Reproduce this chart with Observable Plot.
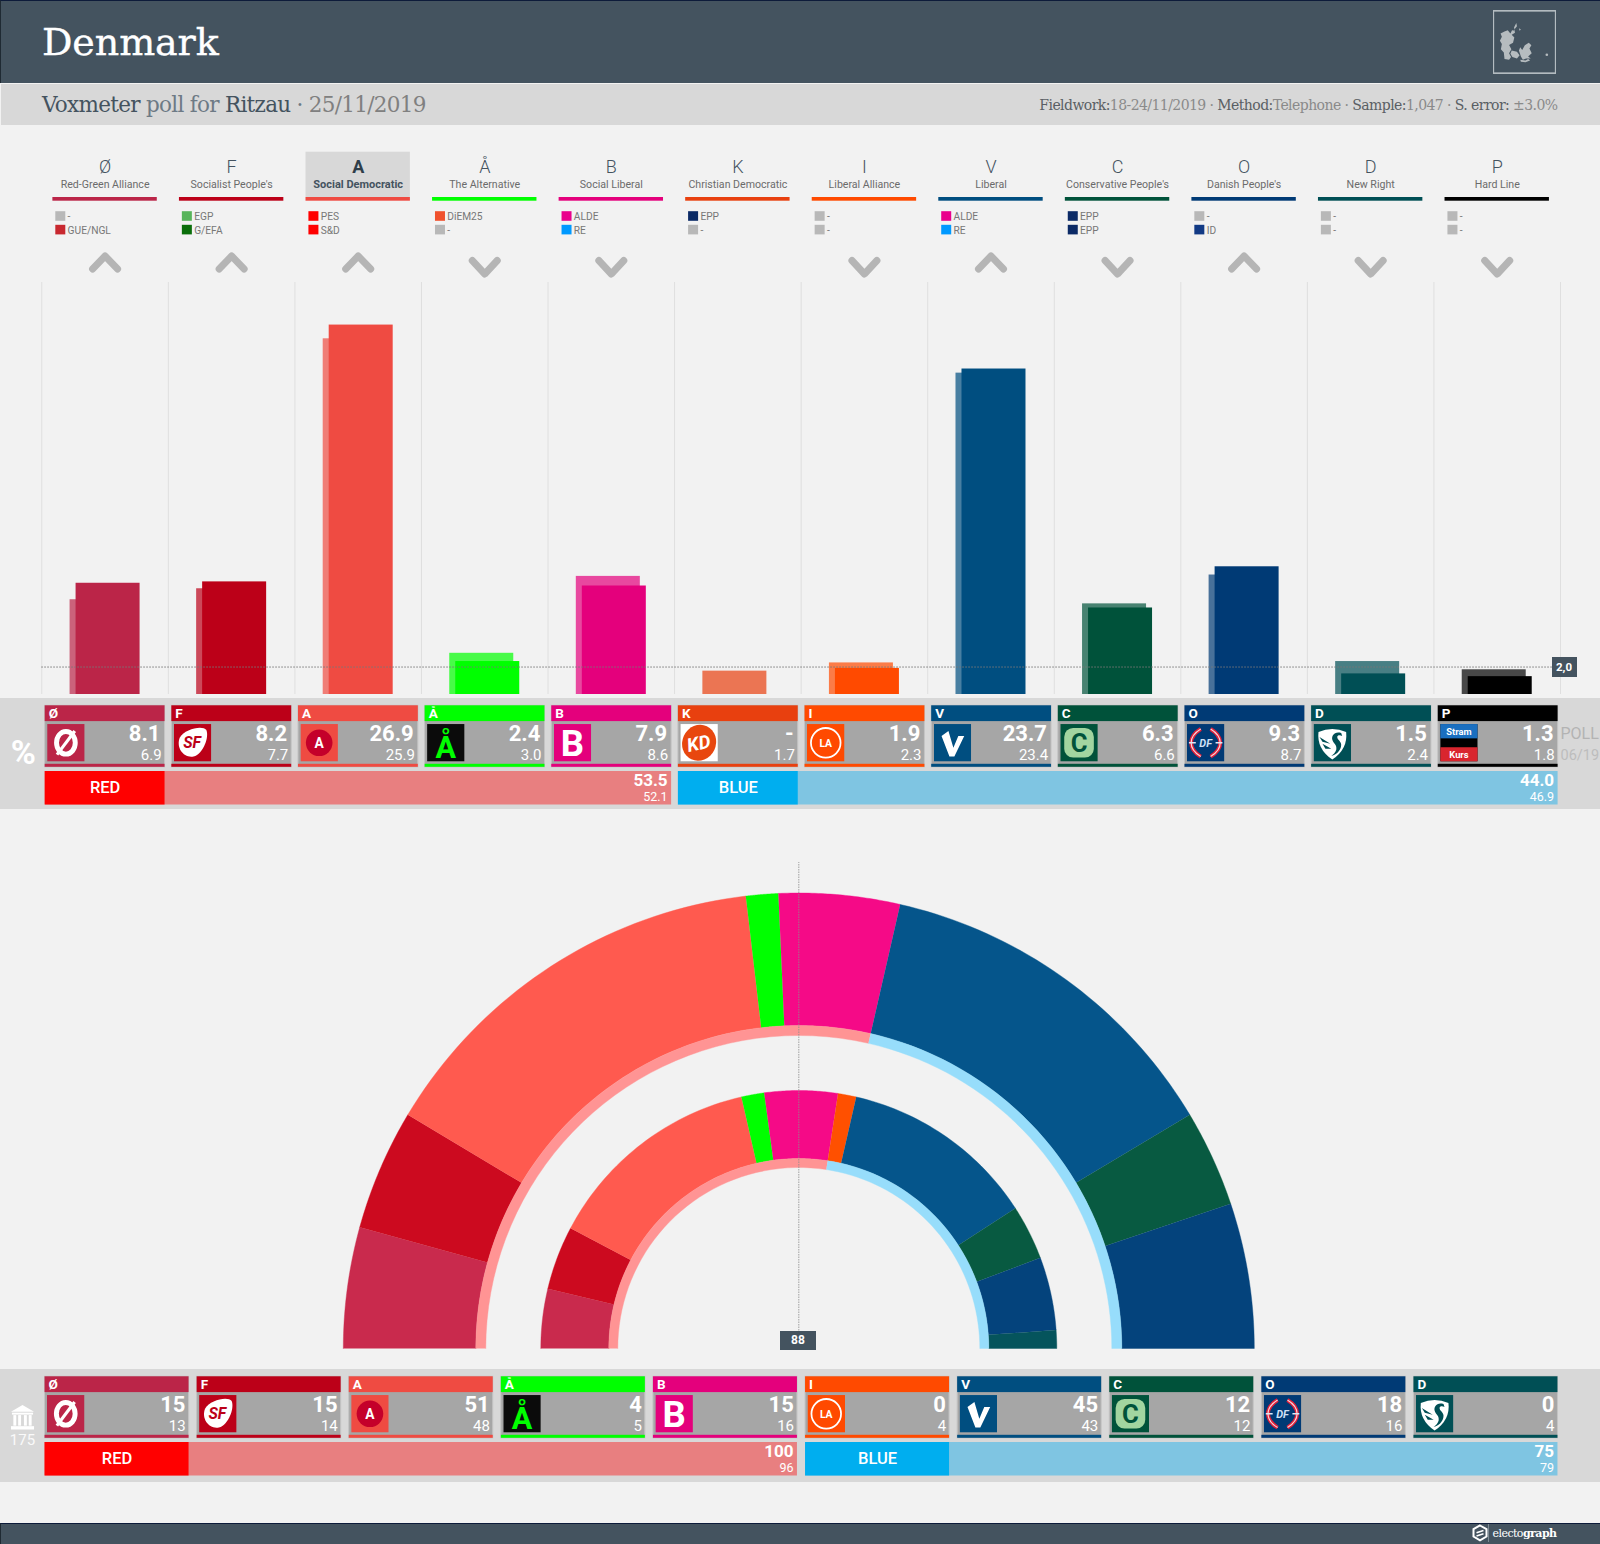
<!DOCTYPE html>
<html lang="en">
<head>
<meta charset="utf-8">
<title>Denmark — Voxmeter poll for Ritzau</title>
<script src="https://cdn.jsdelivr.net/npm/d3@7"></script>
<script src="https://cdn.jsdelivr.net/npm/@observablehq/plot@0.6"></script>
<style>
html,body{margin:0;padding:0;width:1600px;height:1544px;overflow:hidden;background:#f2f2f2;font-family:Roboto,sans-serif}
.abs{position:absolute}
.abs svg{display:block}
#head{left:0;top:0;width:1599px;height:82px;background:#44535f;border-top:1px solid #0d1b3a;border-left:1px solid #1f2a33}
#title{left:42px;top:19px;font:38px/46px "DejaVu Serif",serif;color:#fff;white-space:nowrap;margin:0;letter-spacing:-.1px;-webkit-text-stroke:.35px #fff}
#sub{left:1px;top:84px;width:1599px;height:41px;background:#d8d8d8}
#subl{left:42px;top:92px;font:21.5px/26px "DejaVu Serif",serif;color:#6d7a85;white-space:nowrap;letter-spacing:-.7px;font-weight:300}
#subl b,#subr b{font-weight:400;color:#44535f}
#subl i{font-style:normal;color:#808080}
#subr{right:42.5px;top:96px;font:14px/18px "DejaVu Serif",serif;color:#8a8a8a;white-space:nowrap;letter-spacing:-.57px}
#subr b{color:#5a5f64}
#thr{left:1551.5px;top:656.5px;width:25px;height:20px;background:#44535f;color:#fff;font:700 11.5px/20px Roboto;text-align:center}
#mid{left:780px;top:1331px;width:36px;height:19px;background:#44535f;color:#fff;font:700 12px/19px Roboto;text-align:center}
#foot{left:0;top:1523px;width:1599px;height:20px;background:#44535f;border-top:1px solid #0d1b3a;border-left:1px solid #1f2a33}
#brand{left:1492.5px;top:1525px;font:11px/17px "DejaVu Serif",serif;color:#fff;white-space:nowrap;letter-spacing:-.55px}
#brand b{font-weight:700}
</style>
</head>
<body>
<script>
// ---------- data ----------
const parties = ["Ø","F","A","Å","B","K","I","V","C","O","D","P"];
const partyNames = ["Red-Green Alliance","Socialist People's","Social Democratic","The Alternative","Social Liberal","Christian Democratic","Liberal Alliance","Liberal","Conservative People's","Danish People's","New Right","Hard Line"];
const pollShare = [8.1,8.2,26.9,2.4,7.9,null,1.9,23.7,6.3,9.3,1.5,1.3];
const electionShare = [6.9,7.7,25.9,3.0,8.6,1.7,2.3,23.4,6.6,8.7,2.4,1.8];
const trend = ["up","up","up","down","down",null,"down","up","down","up","down","down"];
const partyColors = ["#bb2548","#bc0018","#ef4b42","#00ff00","#e4007c","#e8400f","#ff4a00","#004e80","#00523a","#003a75","#004f55","#000000"];
const euGroupA = ["-","EGP","PES","DiEM25","ALDE","EPP","-","ALDE","EPP","-","-","-"];
const euGroupB = ["GUE/NGL","G/EFA","S&D","-","RE","-","-","RE","EPP","ID","-","-"];
const euColors = {"-":"#b8b8b8","GUE/NGL":"#c8282f","EGP":"#57b45a","G/EFA":"#0a6e0a","PES":"#ff0000","S&D":"#ff0000","DiEM25":"#f0512d","ALDE":"#e9008c","RE":"#0099ff","EPP":"#0b2a66","ID":"#123a85"};

const seatParties = ["Ø","F","A","Å","B","I","V","C","O","D"];
const pollSeats = [15,15,51,4,15,0,45,12,18,0];
const electionSeats = [13,14,48,5,16,4,43,12,16,4];
const ringColors = ["#c92a4d","#cc0a1f","#ff5a4f","#00ff00","#f50a87","#ff5000","#05558b","#085a41","#04437c","#05545c"];
const totalSeats = 175;

const blocs = ["RED","BLUE"];
const blocShare = [53.5,44.0];
const blocShareElection = [52.1,46.9];
const blocSeats = [100,75];
const blocSeatsElection = [96,79];
const blocPartyCountShare = [5,7];
const blocPartyCountSeats = [5,5];
const blocStrong = ["#ff0000","#00aeef"];
const blocPale = ["#e87f80","#7fc5e2"];
const blocBand = ["#ff9494","#97ddfb"];
const threshold = 2.0;

// ---------- logos (pictures, as in the original tiles) ----------
const T = (s,x,y,size,fill,extra="") => `<text x="${x}" y="${y}" font-family="Roboto" font-weight="700" font-size="${size}" fill="${fill}" text-anchor="middle" ${extra}>${s}</text>`;
const logoBody = {
  "Ø": c=>`<rect width="38" height="38" fill="${c}"/><ellipse cx="19" cy="19" rx="9.5" ry="11.5" fill="none" stroke="#fff" stroke-width="5"/><path d="M10 31L28 7" stroke="#fff" stroke-width="3.2"/>`,
  "F": c=>`<rect width="38" height="38" fill="${c}"/><path d="M6 14C11 5 29 1 33 6C36 13 30 30 20 33C10 35 2 24 6 14Z" fill="#fff"/>`+T("SF",18.5,24,16,c,'font-style="italic"'),
  "A": c=>`<rect width="38" height="38" fill="${c}"/><circle cx="19" cy="19" r="13.5" fill="#c4002a"/>`+T("A",19,24,14,"#fff"),
  "Å": c=>`<rect width="38" height="38" fill="#0b0b0b"/>`+T("Å",19,34.5,31,"#00ff00"),
  "B": c=>`<rect width="38" height="38" fill="${c}"/>`+T("B",19,32.5,37,"#fff"),
  "K": c=>`<rect width="38" height="38" fill="#fff"/><ellipse cx="19" cy="19" rx="17" ry="18.5" transform="rotate(25 19 19)" fill="#e8470f"/>`+T("KD",18.5,26,19,"#fff",'font-style="italic" transform="rotate(-12 19 19)"'),
  "I": c=>`<rect width="38" height="38" fill="#ff4a00"/><circle cx="19" cy="19" r="15" fill="none" stroke="#fff" stroke-width="1.8"/>`+T("LA",19,23,10.5,"#fff"),
  "V": c=>`<rect width="38" height="38" fill="${c}"/><path d="M8 12L15 7L20 24L25 12L31 12L21 33L16 33Z" fill="#fff"/>`,
  "C": c=>`<rect width="38" height="38" fill="${c}"/><rect x="4" y="4" width="30" height="30" rx="9" fill="#a2d5a0"/>`+T("C",19,28,26,c),
  "O": c=>`<rect width="38" height="38" fill="${c}"/><path d="M14 5C1 13 1 25 14 33M24 5C37 13 37 25 24 33" fill="none" stroke="#e0203a" stroke-width="4"/><path d="M14 5C1 13 1 25 14 33M24 5C37 13 37 25 24 33" fill="none" stroke="#f6d5da" stroke-width="1.2"/><path d="M2 19H9M29 19H36" stroke="#dfe8f5" stroke-width="1.5"/>`+T("DF",19,23,11,"#cfe0f5",'font-style="italic"'),
  "D": c=>`<rect width="38" height="38" fill="${c}"/><path d="M5 8Q19 2 33 8Q35 25 19 36Q3 25 5 8Z" fill="#fff"/><path d="M28 9C21 7 18 12 19 16C20 20 24 21 23 26C22 29 20 31 18 32C22 32 28 27 28 21C28 17 24 16 24 13C24 11 27 11 29 12Z" fill="${c}"/><path d="M6 13L17 20L9 18ZM9 20L18 25L12 25Z" fill="${c}"/>`,
  "P": c=>`<rect width="38" height="38" fill="#000"/><rect width="38" height="14.5" fill="#1a6fc0"/><rect y="23.5" width="38" height="14.5" fill="#d9252e"/>`+T("Stram",19,11,9.5,"#fff")+T("Kurs",19,34.5,9.5,"#fff")
};
const logoUri = (p,c) => "data:image/svg+xml;charset=utf-8," + encodeURIComponent(`<svg xmlns="http://www.w3.org/2000/svg" viewBox="0 0 38 38" width="38" height="38">${logoBody[p](c)}</svg>`);

// ---------- helpers ----------
function place(node, top, left = 0) {
  const d = document.createElement("div");
  d.className = "abs"; d.style.top = top + "px"; d.style.left = left + "px";
  d.appendChild(node); document.body.appendChild(d); return d;
}
function html(id, inner) {
  const d = document.createElement("div");
  d.id = id; d.className = "abs"; d.innerHTML = inner;
  document.body.appendChild(d); return d;
}
const colorOf = Object.fromEntries(parties.map((p,i)=>[p,partyColors[i]]));
const range = n => d3.range(n);

// ---------- page furniture ----------
html("head", "");
html("title", "Denmark");
html("sub", "");
html("subl", `<b>Voxmeter</b> poll for <b>Ritzau</b> · <i>25/11/2019</i>`);
html("subr", `<b>Fieldwork:</b>18-24/11/2019 · <b>Method:</b>Telephone · <b>Sample:</b>1,047 · <b>S. error:</b> ±3.0%`);
const mapBox = html("map", `<svg width="63" height="64" viewBox="39 30 192 192"><rect x="40" y="31" width="190" height="190" fill="none" stroke="#b4bcc1" stroke-width="5"/><g fill="#b6bcbf"><path d="M110 68L103 82L106 92L97 90L92 100L84 90L74 94L62 100L66 110L60 122L66 132L63 148L72 158L74 178L88 180L94 172L88 160L95 148L88 135L100 128L104 112L96 104L106 98L104 88L112 78Z"/><path d="M122 142L128 150L136 136L148 128L156 136L150 146L157 160L146 170L154 176L140 176L130 180L124 170L118 152Z"/><path d="M96 152L112 156L120 166L112 176L98 172L92 162Z"/><path d="M122 180L138 182L146 178L152 182L138 188L124 186Z"/><path d="M118 84L124 88L120 92Z"/><circle cx="203" cy="165" r="4"/></g></svg>`);
mapBox.style.left = "1493px"; mapBox.style.top = "10px";

// ---------- legend row ----------
const chartX0 = 41.3, chartX1 = 1560;
{
  const step = (chartX1-chartX0)/12, W = 104.4, inset = (step-W)/2;
  const idx = range(12);
  const groups = idx.flatMap(i => [[euGroupA[i],66],[euGroupB[i],79.6]].map(([g,y],k)=>({i,g,k,y})));
  const chevrons = idx.filter(i=>trend[i]).flatMap(i => {
    const up = trend[i]==="up", a = 12.5/step;
    const ys = up ? [118.5,105.5,118.5] : [110,123.5,110];
    return [-a,0,a].map((o,j)=>({i,x:i+.5+o,y:ys[j]}));
  });
  const isLead = i => i===2;
  place(Plot.plot({
    width:1600, height:130, margin:0,
    style:{background:"transparent",fontFamily:"Roboto"},
    x:{domain:[0,12],range:[chartX0,chartX1],axis:null},
    y:{domain:[0,130],range:[0,130],axis:null},
    color:{type:"identity"},
    marks:[
      Plot.rect([2],{x1:d=>d,x2:d=>d+1,y1:()=>1.7,y2:()=>47,insetLeft:inset,insetRight:inset,fill:"#d8d8d8"}),
      Plot.text(idx.filter(i=>!isLead(i)),{x:i=>i+.5,y:()=>17,text:i=>parties[i],fontSize:18,fontWeight:300,fill:"#44535f"}),
      Plot.text(idx.filter(isLead),{x:i=>i+.5,y:()=>17,text:i=>parties[i],fontSize:18,fontWeight:700,fill:"#2f3e4a"}),
      Plot.text(idx.filter(i=>!isLead(i)),{x:i=>i+.5,y:()=>34.3,text:i=>partyNames[i],fontSize:10.6,fill:"#6b6b6b"}),
      Plot.text(idx.filter(isLead),{x:i=>i+.5,y:()=>34.3,text:i=>partyNames[i],fontSize:11,fontWeight:700,fill:"#44535f"}),
      Plot.rect(idx,{x1:i=>i,x2:i=>i+1,y1:()=>47,y2:()=>50.7,insetLeft:inset,insetRight:inset,fill:i=>partyColors[i]}),
      Plot.rect(groups,{x1:d=>d.i+14/step,x2:d=>d.i+24/step,y1:d=>d.y-4.8,y2:d=>d.y+4.8,fill:d=>euColors[d.g]}),
      Plot.text(groups,{x:d=>d.i+25.8/step,y:d=>d.y+.3,text:"g",textAnchor:"start",fontSize:10.2,fill:"#777"}),
      Plot.line(chevrons,{x:"x",y:"y",z:"i",stroke:"#b5b5b5",strokeWidth:7,strokeLinecap:"round",strokeLinejoin:"round"})
    ]
  }), 150);
}

// ---------- bars ----------
{
  const rows = parties.map((p,i)=>({party:p,poll:pollShare[i],prev:electionShare[i]}));
  const step = (chartX1-chartX0)/12, barInset = (step-64)/2;
  place(Plot.plot({
    width:1600, height:412, marginTop:0, marginBottom:0, marginLeft:chartX0, marginRight:1600-chartX1,
    style:{background:"transparent",fontFamily:"Roboto"},
    x:{type:"band",domain:parties,padding:0,round:false,axis:null},
    y:{domain:[0,30],axis:null},
    color:{domain:parties,range:partyColors},
    marks:[
      Plot.ruleX(parties,{x:d=>d,dx:-step/2,stroke:"#dfdfdf"}),
      Plot.ruleX(parties.slice(-1),{x:d=>d,dx:step/2,stroke:"#dfdfdf"}),
      Plot.barY(rows,{x:"party",y:"prev",fill:"party",fillOpacity:.7,dx:-3,insetLeft:barInset,insetRight:barInset}),
      Plot.barY(rows.filter(d=>d.poll!=null),{x:"party",y:"poll",fill:"party",dx:3,insetLeft:barInset,insetRight:barInset}),
      Plot.ruleY([threshold],{stroke:"#777",strokeDasharray:"1.5,1.5",strokeWidth:1})
    ]
  }), 282);
}
html("thr", String(threshold.toFixed(1)).replace(".",","));

// ---------- tile rows ----------
function tileRow({top,height,keys,colors,main,sub,fmt,x0,x1,inset,mainPad,blocMain,blocSub,blocCounts,extra}) {
  const n = keys.length, idx = range(n);
  const blocRows = blocs.map((b,k)=>({k,b,start:d3.sum(blocCounts.slice(0,k)),end:d3.sum(blocCounts.slice(0,k+1))}));
  const tileTop = 7.3;
  const R = {insetLeft:inset,insetRight:inset};
  return place(Plot.plot({
    width:1600, height, margin:0,
    style:{background:"#d8d8d8",fontFamily:"Roboto"},
    x:{domain:[0,n],range:[x0,x1],axis:null},
    y:{domain:[0,height],range:[0,height],axis:null},
    color:{type:"identity"},
    marks:[
      Plot.rect(idx,{x1:i=>i,x2:i=>i+1,y1:()=>tileTop,y2:()=>tileTop+61.5,fill:"#a6a6a6",stroke:"#c4c4c4",...R}),
      Plot.rect(idx,{x1:i=>i,x2:i=>i+1,y1:()=>tileTop,y2:()=>tileTop+15.8,fill:i=>colors[i],...R}),
      Plot.rect(idx,{x1:i=>i,x2:i=>i+1,y1:()=>tileTop+58.5,y2:()=>tileTop+61.5,fill:i=>colors[i],...R}),
      Plot.text(idx,{x:i=>i,dx:inset+3.5,y:()=>tileTop+8,text:i=>keys[i],textAnchor:"start",fontSize:13.5,fontWeight:700,fill:"#fff"}),
      Plot.image(idx,{x:i=>i,dx:inset+2+18.7,y:()=>tileTop+37,src:i=>logoUri(keys[i],colors[i]),width:37.5,height:37.5}),
      Plot.text(idx,{x:i=>i+1,dx:-inset-mainPad,y:()=>tileTop+28,text:i=>fmt(main[i]),textAnchor:"end",fontSize:22,fontWeight:700,fill:"#fff"}),
      Plot.text(idx,{x:i=>i+1,dx:-inset-3.4,y:()=>tileTop+49.8,text:i=>fmt(sub[i]),textAnchor:"end",fontSize:15,fill:"#fff"}),
      Plot.rect(blocRows,{x1:"start",x2:"end",y1:()=>73,y2:()=>106.5,fill:d=>blocPale[d.k],...R}),
      Plot.rect(blocRows,{x1:"start",x2:d=>d.start+1,y1:()=>73,y2:()=>106.5,fill:d=>blocStrong[d.k],...R}),
      Plot.text(blocRows,{x:d=>d.start+.5,y:()=>89.5,text:"b",fontSize:16.5,fontWeight:500,fill:"#fff"}),
      Plot.text(blocRows,{x:"end",dx:-inset-4,y:()=>82,text:d=>fmt(blocMain[d.k]),textAnchor:"end",fontSize:17,fontWeight:700,fill:"#fff"}),
      Plot.text(blocRows,{x:"end",dx:-inset-4,y:()=>98.5,text:d=>fmt(blocSub[d.k]),textAnchor:"end",fontSize:12.5,fill:"#fff"}),
      ...extra
    ]
  }), top);
}

const fmt1 = v => v==null ? "-" : v.toFixed(1);
tileRow({
  top:698,height:111,keys:parties,colors:partyColors,main:pollShare,sub:electionShare,fmt:fmt1,
  x0:41.3,x1:1561,inset:3.4,mainPad:4.6,blocMain:blocShare,blocSub:blocShareElection,blocCounts:blocPartyCountShare,
  extra:[
    Plot.text(["%"],{x:()=>0,dx:-18.5,y:()=>55,text:d=>d,fontSize:34,fontWeight:700,fill:"#fff"}),
    Plot.text(["POLL"],{x:()=>12,dx:-1,y:()=>35,text:d=>d,textAnchor:"start",fontSize:16,fill:"#b3b3b3"}),
    Plot.text(["06/19"],{x:()=>12,dx:-1,y:()=>57,text:d=>d,textAnchor:"start",fontSize:14.5,fill:"#bdbdbd"})
  ]
});

// ---------- hemicycle ----------
function ringSlices(values, keys, r0, r1, ring) {
  let c = 0; const pts = [];
  values.forEach((v,i) => {
    const a0 = Math.PI*(1-c/totalSeats), a1 = Math.PI*(1-(c+v)/totalSeats); c += v;
    if (v===0) return;
    const angles = d3.range(0,41).map(k=>a0+(a1-a0)*k/40);
    const key = ring+"-"+keys[i];
    angles.forEach(a=>pts.push({key,party:keys[i],x:r1*Math.cos(a),y:r1*Math.sin(a)}));
    angles.slice().reverse().forEach(a=>pts.push({key,party:keys[i],x:r0*Math.cos(a),y:r0*Math.sin(a)}));
  });
  return pts;
}
{
  const slices = [
    ...ringSlices(pollSeats,seatParties,323,455.5,"outer"),
    ...ringSlices(electionSeats,seatParties,190,258,"inner"),
    ...ringSlices(blocSeats,blocs,313,323,"outerBand"),
    ...ringSlices(blocSeatsElection,blocs,181,190,"innerBand")
  ];
  place(Plot.plot({
    width:1600, height:490, margin:0,
    style:{background:"transparent",fontFamily:"Roboto"},
    x:{domain:[-798.3,801.7],range:[0,1600],axis:null},
    y:{domain:[-2,488],range:[490,0],axis:null},
    color:{domain:[...seatParties,...blocs],range:[...ringColors,...blocBand]},
    marks:[
      Plot.line(slices,{x:"x",y:"y",z:"key",fill:"party",stroke:"party",strokeWidth:.4,curve:"linear"}),
      Plot.ruleX([0],{y1:0,y2:486,stroke:"#8d8d8d",strokeDasharray:"1.5,1",strokeOpacity:.8})
    ]
  }), 860);
}
html("mid", String(Math.ceil((totalSeats+1)/2)));

// ---------- seats row ----------
tileRow({
  top:1369,height:113,keys:seatParties,colors:seatParties.map(p=>colorOf[p]),main:pollSeats,sub:electionSeats,fmt:v=>String(v),
  x0:40.5,x1:1561.5,inset:4.05,mainPad:3.6,blocMain:blocSeats,blocSub:blocSeatsElection,blocCounts:blocPartyCountSeats,
  extra:[
    Plot.text([String(totalSeats)],{x:()=>0,dx:-18.5,y:()=>71,text:d=>d,fontSize:15,fontWeight:400,fill:"#fafafa"})
  ]
});
const temple = html("temple", `<svg width="25" height="25" viewBox="0 0 26 26"><g fill="#fff"><path d="M13 0L25 7H1Z"/><rect x="2" y="8" width="22" height="2"/><rect x="3.5" y="10.5" width="3" height="11"/><rect x="8.5" y="10.5" width="3" height="11"/><rect x="14.5" y="10.5" width="3" height="11"/><rect x="19.5" y="10.5" width="3" height="11"/><rect x="1" y="22" width="24" height="3.5"/></g></svg>`);
temple.style.left = "10px"; temple.style.top = "1404.5px";

// ---------- footer ----------
html("foot", "");
html("brand", `electo<b>graph</b>`);
const mark = html("mark", `<svg width="20" height="20" viewBox="0 0 20 20"><path d="M10 1.5L16.5 5.2V12.5L10 16.3L3.5 12.5V5.2Z" fill="none" stroke="#fff" stroke-width="2"/><path d="M6.5 8.8L13.5 6.5M6.5 12L13.5 9.8" stroke="#fff" stroke-width="1.6"/><path d="M18.5 0V18" stroke="#8b98a1" stroke-width=".8"/></svg>`);
mark.style.left = "1470px"; mark.style.top = "1524px";
</script>
</body>
</html>
